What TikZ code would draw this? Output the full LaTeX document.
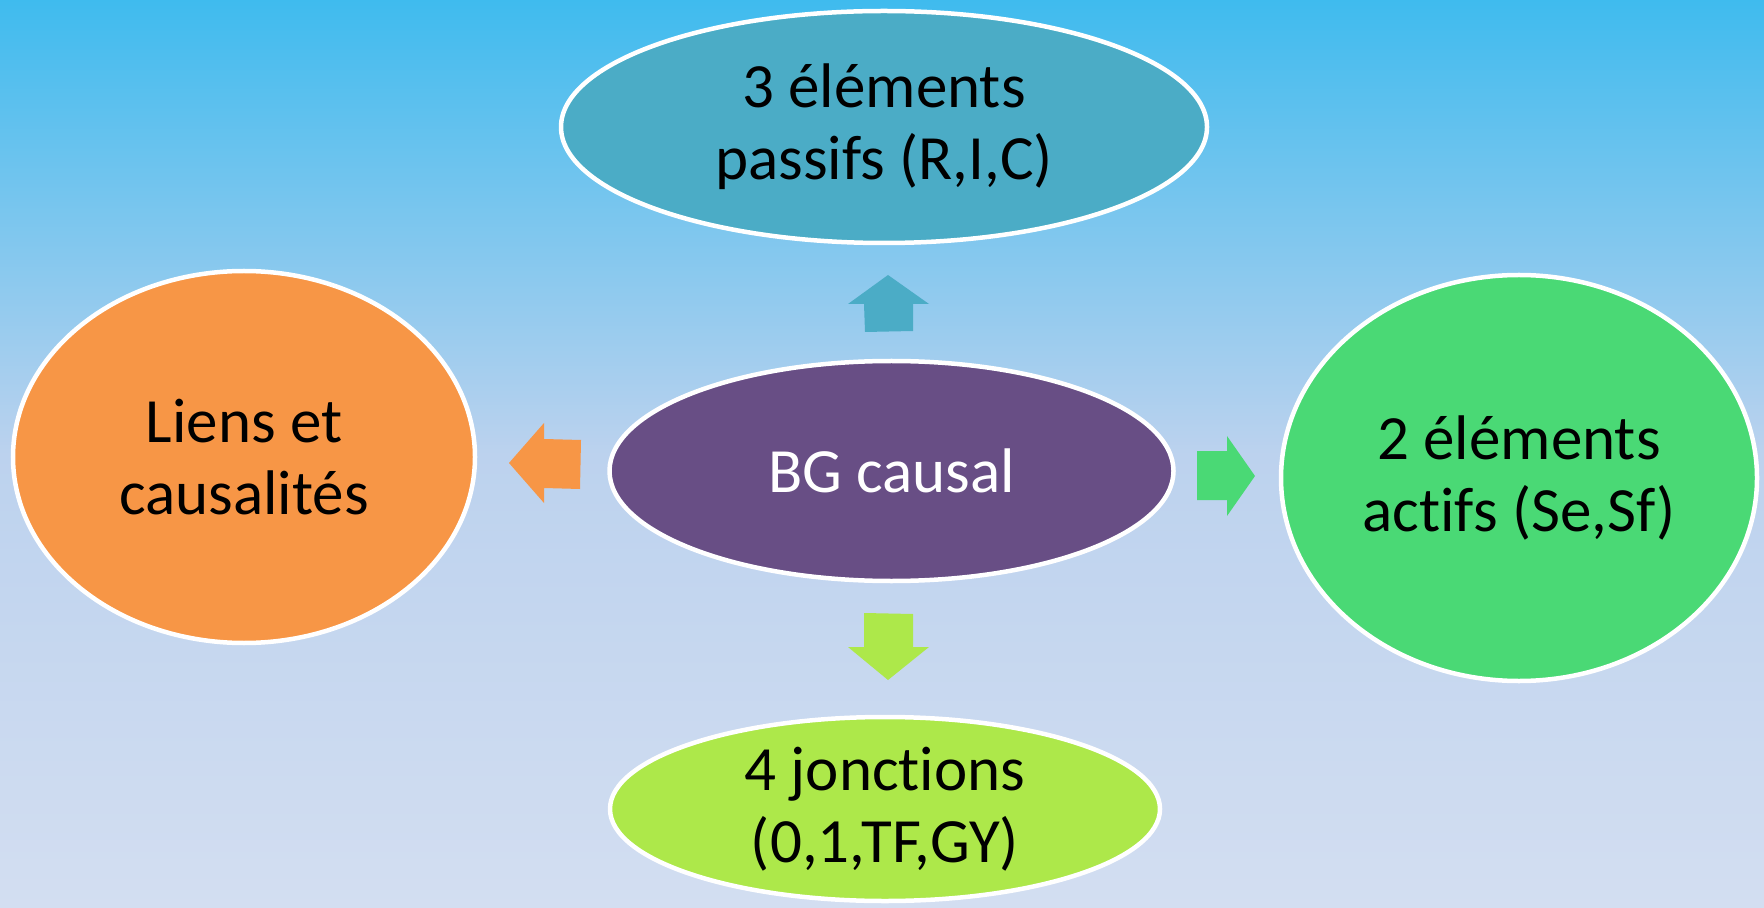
\documentclass[tikz,border=0pt]{standalone}
\usepackage{fontspec}
\setmainfont{Carlito}[Ligatures=NoCommon]
\usetikzlibrary{shapes.geometric}
\definecolor{bgtop}{HTML}{3FBBEE}
\definecolor{bgmid}{HTML}{BCD2EE}
\definecolor{bgbot}{HTML}{D3DEF1}
\definecolor{cteal}{HTML}{4BACC6}
\definecolor{corange}{HTML}{F79646}
\definecolor{cpurple}{HTML}{684E85}
\definecolor{cgreen}{HTML}{4AD975}
\definecolor{clime}{HTML}{ADE84A}
\tikzset{
  bubble/.style={ellipse, draw=white, line width=2.25pt, inner sep=0pt, align=center,
    font=\fontsize{31.5}{36}\selectfont, text=black},
}
\begin{document}
\begin{tikzpicture}[x=0.5pt,y=-0.5pt]
\useasboundingbox (0,0) rectangle (1764,908);
\shade[top color=bgtop, bottom color=bgbot, middle color=bgmid] (0,0) rectangle (1764,908);
% ellipses
\node[bubble, fill=cteal, minimum width=323pt, minimum height=116pt] (top) at (884,127)
  {3 éléments\\passifs (R,I,C)};
\node[bubble, fill=corange, minimum width=231pt, minimum height=186pt] (left) at (244,457)
  {Liens et\\causalités};
\node[bubble, fill=cpurple, minimum width=282pt, minimum height=110pt, text=white] (center) at (891.5,471)
  {BG causal};
\node[bubble, fill=cgreen, minimum width=238pt, minimum height=203pt] (right) at (1519,478)
  {2 éléments\\actifs (Se,Sf)};
\node[bubble, fill=clime, minimum width=275pt, minimum height=92pt] (bottom) at (885,809)
  {4 jonctions\\(0,1,TF,GY)};
% block arrows
\fill[cteal] (888,275) -- (929,304) -- (913,304) -- (913,331) -- (865,332) -- (864,304) -- (848,304) -- cycle;
\fill[corange] (509,463) -- (544,423) -- (544,439) -- (581,440) -- (580,489) -- (544,488) -- (544,503) -- cycle;
\fill[cgreen] (1255,476) -- (1227,436) -- (1227,451) -- (1197,451) -- (1197,500) -- (1227,500) -- (1227,516) -- cycle;
\fill[clime] (888,680) -- (929,647) -- (913,647) -- (913,614) -- (864,613) -- (864,647) -- (848,647) -- cycle;
\end{tikzpicture}
\end{document}
